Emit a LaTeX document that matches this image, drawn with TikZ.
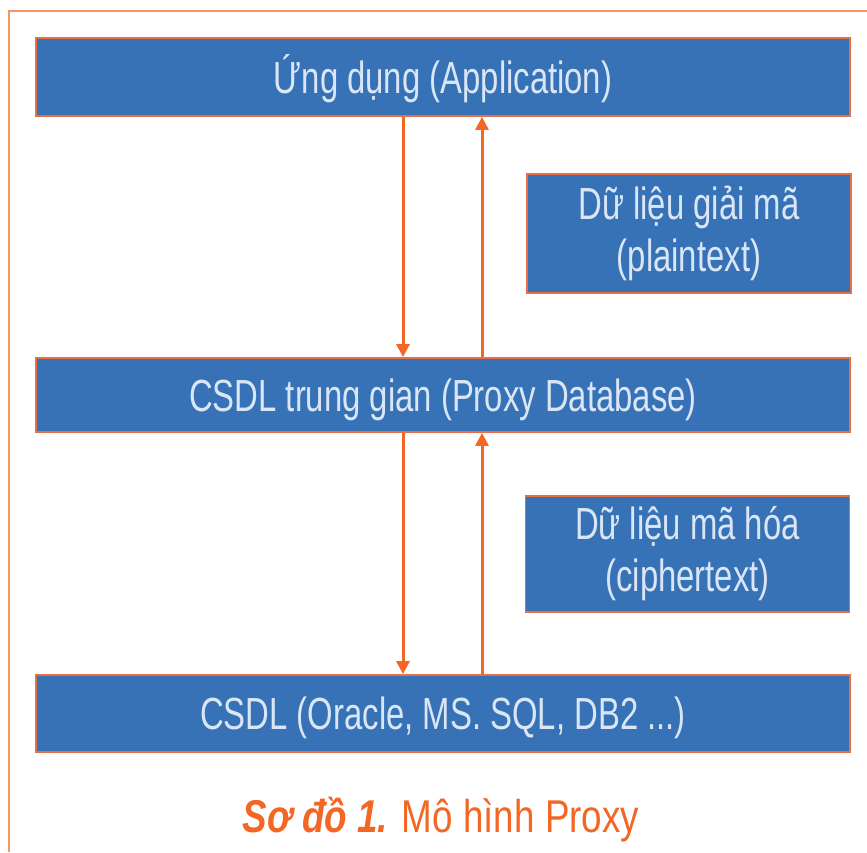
\documentclass[tikz,border=0pt]{standalone}
\usepackage{fontspec}
\setmainfont{Liberation Sans}[FakeStretch=0.73]
\newfontfamily\capfont{Liberation Sans}[FakeStretch=0.8]
\usepackage{tikz}
\usetikzlibrary{arrows.meta,positioning,calc}
\usepackage{xcolor}
\definecolor{boxblue}{RGB}{54,114,181}
\definecolor{boxline}{RGB}{232,110,70}
\definecolor{flowor}{RGB}{243,102,36}
\definecolor{framor}{RGB}{246,150,100}
\definecolor{boxtxt}{RGB}{218,230,246}
\tikzset{
  layer/.style ={draw=boxline,line width=1.8pt,fill=boxblue,text=boxtxt,
                 minimum width=814pt,text height=32pt,text depth=0pt,
                 font=\fontsize{45}{52}\selectfont},
  datbox/.style={draw=boxline,line width=1.8pt,fill=boxblue,text=boxtxt,
                 minimum width=324pt,align=center,
                 font=\fontsize{45}{52}\selectfont},
  flow/.style  ={draw=flowor,line width=3pt,-{Triangle[width=13pt,length=13pt]}},
}

\begin{document}
\begin{tikzpicture}[x=1pt,y=-1pt]
  \useasboundingbox (0,0) rectangle (867,852);
  % khung ngoai
  \draw[framor,line width=2.5pt] (9,852) -- (9,11) -- (867,11);
  % ba tang
  \node[layer,minimum height=78pt] (app)   at (443,77)    {Ứng dụng (Application)};
  \node[layer,minimum height=74pt] (proxy) at (443,395)   {CSDL trung gian (Proxy Database)};
  \node[layer,minimum height=77pt] (db)    at (443,713.5) {CSDL (Oracle, MS. SQL, DB2 ...)};
  % du lieu
  \node[datbox,minimum height=119pt] (plain)  at (689,233.5) {Dữ liệu giải mã\\(plaintext)};
  \node[datbox,minimum height=116pt] (cipher) at (687.5,554) {Dữ liệu mã hóa\\(ciphertext)};
  % luong
  \coordinate (dn) at (403,0);
  \coordinate (up) at (482,0);
  \draw[flow] (app.south -| dn)   -- (proxy.north -| dn);
  \draw[flow] (proxy.north -| up) -- (app.south -| up);
  \draw[flow] (proxy.south -| dn) -- (db.north -| dn);
  \draw[flow] (db.north -| up)    -- (proxy.south -| up);
  % chu thich
  \node[text=flowor,anchor=base,font=\capfont\fontsize{46}{50}\selectfont] (cap) at (441,832)
    {\textbf{\textit{Sơ đồ 1.}} Mô hình Proxy};
\end{tikzpicture}
\end{document}
